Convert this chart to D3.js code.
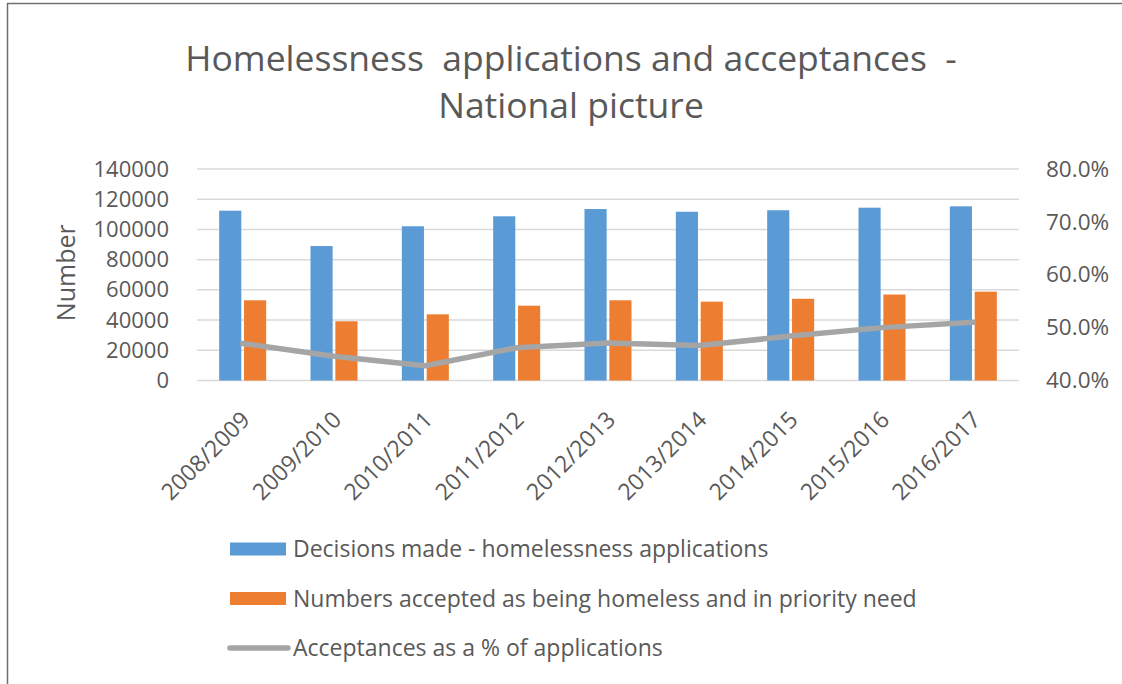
<!DOCTYPE html>
<html>
<head>
<meta charset="utf-8">
<script src="https://cdn.jsdelivr.net/npm/d3@7"></script>
<style>
  body { margin: 0; background: #fff; }
  svg text { font-family: "Open Sans", "Noto Sans", sans-serif; fill: #595959; }
</style>
</head>
<body>
<div class="canvas"></div>
<script>
// data
const years = ['2008/2009', '2009/2010', '2010/2011', '2011/2012', '2012/2013',
  '2013/2014', '2014/2015', '2015/2016', '2016/2017'];
const decisions = [112400, 89000, 102100, 108700, 113500, 111700, 112700, 114400, 115300];
const accepted = [53100, 39200, 43800, 49500, 53100, 52200, 54100, 56900, 58800];
const acceptPct = [0.470, 0.446, 0.428, 0.462, 0.471, 0.466, 0.484, 0.500, 0.510];
const leftTicks = [0, 20000, 40000, 60000, 80000, 100000, 120000, 140000];
const rightTicks = [0.4, 0.5, 0.6, 0.7, 0.8];
const titleLines = ['Homelessness  applications and acceptances  -', 'National picture'];
const legendItems = [
  { label: 'Decisions made - homelessness applications', color: '#5b9bd5', type: 'bar' },
  { label: 'Numbers accepted as being homeless and in priority need', color: '#ed7d31', type: 'bar' },
  { label: 'Acceptances as a % of applications', color: '#a5a5a5', type: 'line' }
];

const width = 1122, height = 684;
const plot = { left: 197, right: 1019, top: 169, bottom: 380.5 };

const svg = d3.select('.canvas')
  .append('svg')
  .attr('width', width)
  .attr('height', height);

// frame edges (only top and left are visible in the crop)
svg.append('line')
  .attr('x1', 7).attr('x2', width).attr('y1', 3.5).attr('y2', 3.5)
  .attr('stroke', '#6f6f6f').attr('stroke-width', 1.5);
svg.append('line')
  .attr('x1', 7.5).attr('x2', 7.5).attr('y1', 3).attr('y2', height)
  .attr('stroke', '#6f6f6f').attr('stroke-width', 1.5);

// title
svg.append('text')
  .attr('text-anchor', 'middle')
  .style('font-size', '35.5px')
  .style('white-space', 'pre')
  .selectAll('tspan')
  .data(titleLines)
  .enter().append('tspan')
    .attr('x', 571)
    .attr('y', (d, i) => 71 + i * 47)
    .text(d => d);

const x = d3.scaleBand().domain(years).range([plot.left, plot.right]);
const xSub = d3.scaleBand().domain([0, 1])
  .range([x.bandwidth() / 2 - 23.5, x.bandwidth() / 2 + 23.5])
  .paddingInner(0.11);
const y = d3.scaleLinear().domain([0, 140000]).range([plot.bottom, plot.top]);
const y2 = d3.scaleLinear().domain([0.4, 0.8]).range([plot.bottom, plot.top]);

// gridlines
svg.append('g')
  .selectAll('line')
  .data(leftTicks)
  .enter().append('line')
    .attr('x1', plot.left).attr('x2', plot.right)
    .attr('y1', d => y(d)).attr('y2', d => y(d))
    .attr('stroke', '#d9d9d9')
    .attr('stroke-width', 1.5);

// left axis labels
const yAxisGroup = svg.append('g')
  .attr('transform', `translate(${plot.left - 28}, 0)`)
  .call(d3.axisLeft(y).tickValues(leftTicks).tickSize(0).tickPadding(0).tickFormat(d => d));
yAxisGroup.select('.domain').remove();
yAxisGroup.selectAll('text')
  .style('font-size', '22px')
  .style('font-family', '"Open Sans", sans-serif')
  .attr('fill', '#595959');

// right axis labels
const y2AxisGroup = svg.append('g')
  .attr('transform', `translate(${plot.right + 27}, 0)`)
  .call(d3.axisRight(y2).tickValues(rightTicks).tickSize(0).tickPadding(0).tickFormat(d3.format('.1%')));
y2AxisGroup.select('.domain').remove();
y2AxisGroup.selectAll('text')
  .style('font-size', '22.5px')
  .style('font-family', '"Open Sans", sans-serif')
  .attr('fill', '#595959');

// y title
svg.append('text')
  .attr('transform', `translate(75, ${(plot.top + plot.bottom) / 2 - 2}) rotate(-90)`)
  .attr('text-anchor', 'middle')
  .style('font-size', '25px')
  .text('Number');

// bars
const groups = svg.append('g')
  .selectAll('g')
  .data(years)
  .enter().append('g')
    .attr('transform', d => `translate(${x(d)}, 0)`);

groups.append('rect')
  .attr('x', xSub(0))
  .attr('width', xSub.bandwidth())
  .attr('y', (d, i) => y(decisions[i]))
  .attr('height', (d, i) => y(0) - y(decisions[i]))
  .attr('fill', '#5b9bd5');

groups.append('rect')
  .attr('x', xSub(1))
  .attr('width', xSub.bandwidth())
  .attr('y', (d, i) => y(accepted[i]))
  .attr('height', (d, i) => y(0) - y(accepted[i]))
  .attr('fill', '#ed7d31');

// percentage line
const line = d3.line()
  .x((d, i) => x(years[i]) + x.bandwidth() / 2)
  .y(d => y2(d));

svg.append('path')
  .datum(acceptPct)
  .attr('fill', 'none')
  .attr('stroke', '#a5a5a5')
  .attr('stroke-width', 5.5)
  .attr('stroke-linejoin', 'round')
  .attr('stroke-linecap', 'round')
  .attr('d', line);

// category labels, rotated
svg.append('g')
  .selectAll('text')
  .data(years)
  .enter().append('text')
    .attr('transform', d => `translate(${x(d) + x.bandwidth() / 2 + 3}, ${plot.bottom + 35}) rotate(-45)`)
    .attr('text-anchor', 'end')
    .attr('dy', '0.35em')
    .style('font-size', '23px')
    .text(d => d);

// legend
const legend = svg.append('g')
  .selectAll('g')
  .data(legendItems)
  .enter().append('g')
    .attr('transform', (d, i) => `translate(230, ${549 + i * 49.5})`);

legend.filter(d => d.type === 'bar').append('rect')
  .attr('x', 0).attr('y', -6.5)
  .attr('width', 56).attr('height', 13)
  .attr('fill', d => d.color);

legend.filter(d => d.type === 'line').append('line')
  .attr('x1', 0).attr('x2', 58)
  .attr('y1', 0).attr('y2', 0)
  .attr('stroke', d => d.color)
  .attr('stroke-width', 5.5)
  .attr('stroke-linecap', 'round');

legend.append('text')
  .attr('x', 63)
  .attr('dy', '0.35em')
  .style('font-size', '23px')
  .text(d => d.label);
</script>
</body>
</html>
